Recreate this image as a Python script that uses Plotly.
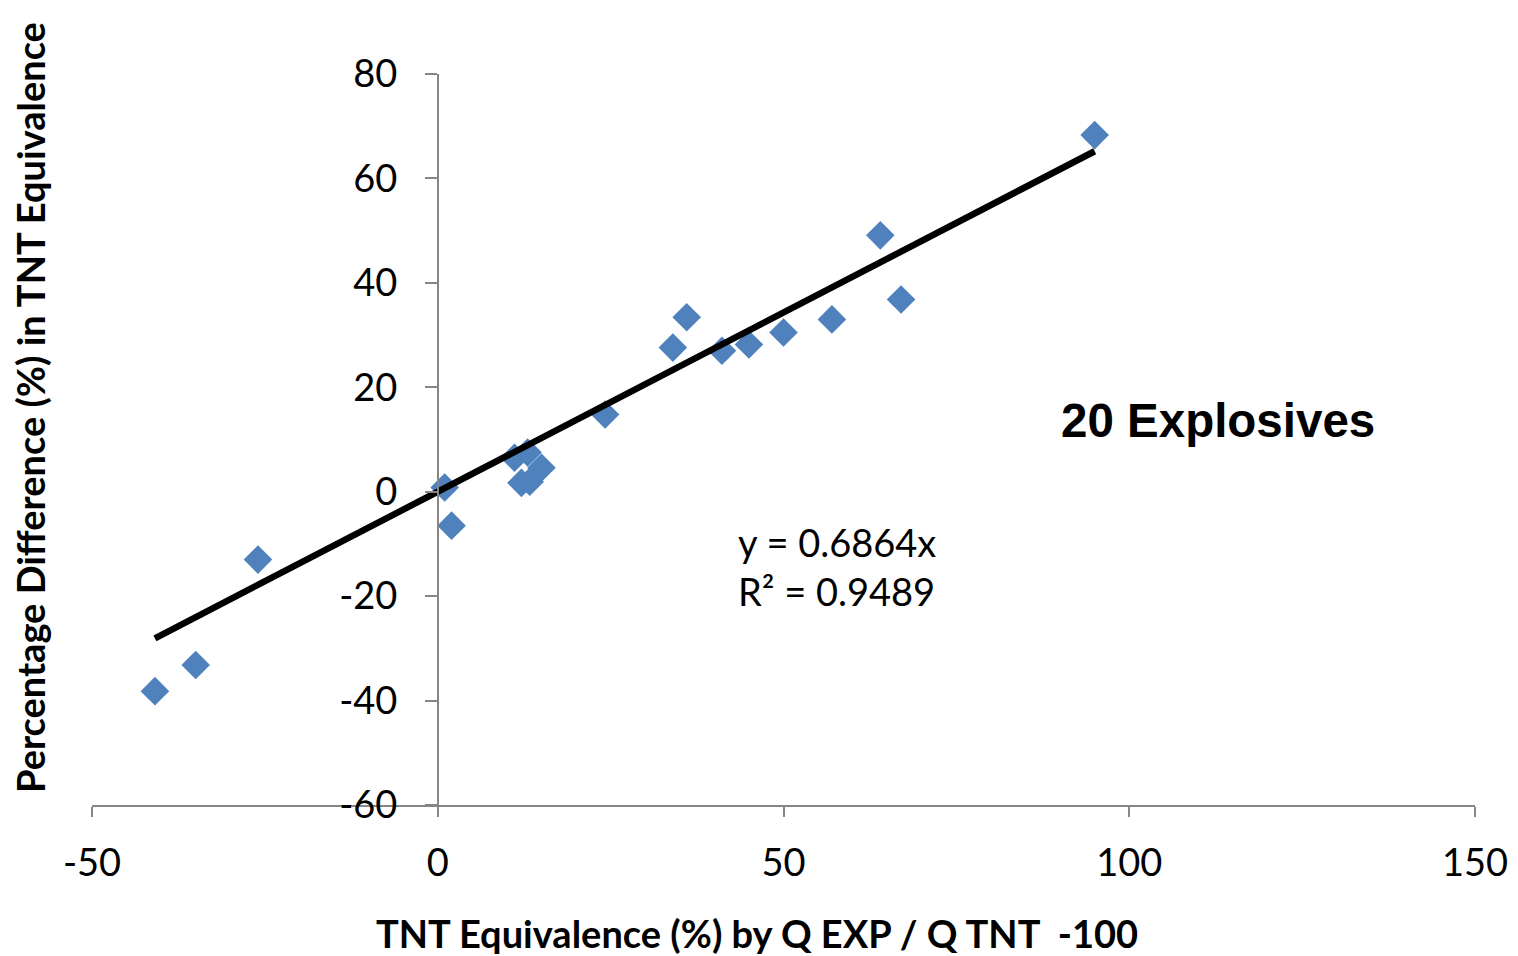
import plotly.graph_objects as go

# Data
tnt_equiv = [-40.9, -35.0, -26.0, 1.0, 2.0, 11.1, 13.0, 12.1, 13.3, 15.0,
             24.2, 34.0, 36.0, 41.1, 45.0, 50.0, 57.0, 64.0, 67.0, 95.0]
pct_diff = [-38.2, -33.2, -13.0, 0.8, -6.5, 6.5, 7.5, 1.7, 1.9, 4.6,
            14.8, 27.6, 33.4, 27.0, 28.2, 30.5, 33.0, 49.1, 36.8, 68.3]
slope = 0.6864
r2 = 0.9489
x_ticks = [-50, 0, 50, 100, 150]
x_tick_labels = ["-50", "0", "50", "100", "150"]
y_ticks = [-60, -40, -20, 0, 20, 40, 60, 80]
y_tick_labels = ["-60", "-40", "-20", "0", "20", "40", "60", "80"]

FONT = "Lato"
trend_x = [min(tnt_equiv), max(tnt_equiv)]
trend_y = [slope * v for v in trend_x]

# plot area in page pixels (page body has an 8px margin)
PL, PR, PT, PB = 92, 1475, 74, 805
OFF = 8

fig = go.Figure()
fig.add_trace(go.Scatter(x=tnt_equiv, y=pct_diff, mode="markers",
                         marker=dict(symbol="diamond", size=22, color="#4F81BD"),
                         showlegend=False, hoverinfo="x+y"))
fig.add_trace(go.Scatter(x=trend_x, y=trend_y, mode="lines",
                         line=dict(color="black", width=6.5),
                         showlegend=False, hoverinfo="skip"))

fig.update_layout(
    width=1518, height=956,
    paper_bgcolor="white", plot_bgcolor="white",
    margin=dict(l=PL - OFF, r=1518 + OFF - PR, t=PT - OFF, b=956 + OFF - PB),
    font=dict(family=FONT, color="black", size=38),
    xaxis=dict(range=[-50, 150], tickvals=x_ticks, ticktext=x_tick_labels,
               showgrid=False, zeroline=False,
               showline=True, linecolor="#868686", linewidth=1.5,
               ticks="outside", ticklen=10, tickcolor="#868686", tickwidth=1.5,
               ticklabelstandoff=14, tickfont=dict(size=38, family=FONT)),
    yaxis=dict(range=[-60, 80], tickvals=y_ticks, ticktext=y_tick_labels,
               showgrid=False, zeroline=False,
               showline=True, linecolor="#868686", linewidth=1.5,
               anchor="free", position=0.25,
               ticks="outside", ticklen=12, tickcolor="#868686", tickwidth=1.5,
               ticklabelstandoff=20, tickfont=dict(size=38, family=FONT)),
)

fig.add_annotation(text="<b>TNT Equivalence (%) by Q EXP / Q TNT  -100</b>",
                   xref="paper", yref="paper", x=(757 - PL) / (PR - PL), y=(PB - 933) / (PB - PT),
                   xanchor="center", yanchor="middle", showarrow=False,
                   font=dict(size=38, family=FONT))
fig.add_annotation(text="<b>Percentage Difference (%) in TNT Equivalence</b>",
                   xref="paper", yref="paper", x=(30 - PL) / (PR - PL), y=(PB - 408) / (PB - PT),
                   xanchor="center", yanchor="middle", showarrow=False, textangle=-90,
                   font=dict(size=38, family=FONT))
fig.add_annotation(text=f"y = {slope}x<br>R² = {r2}",
                   x=43.2, y=-14.3, xanchor="left", yanchor="middle", align="left",
                   showarrow=False, font=dict(size=38, family=FONT))
fig.add_annotation(text="<b>20 Explosives</b>",
                   x=89.8, y=13.6, xanchor="left", yanchor="middle",
                   showarrow=False, font=dict(size=47.5, family="Liberation Sans"))

fig.write_html("out.html")
